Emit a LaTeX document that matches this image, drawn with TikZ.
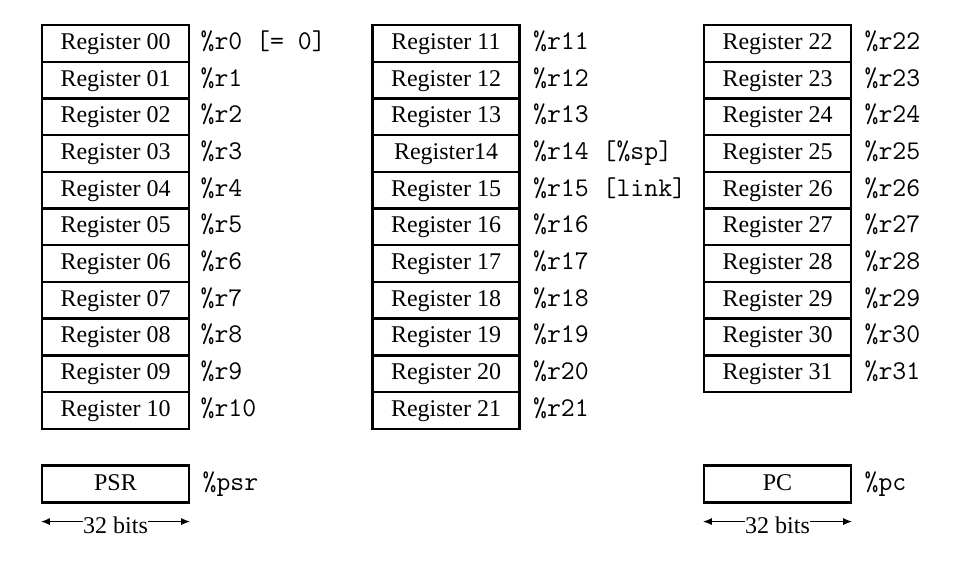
\documentclass[tikz,border=0pt]{standalone}
\usepackage{fontspec}
\setmainfont{Liberation Serif}
\usetikzlibrary{arrows.meta, positioning, calc}
\tikzset{
    regbox/.style={draw=black, line width=1.2pt, minimum width=73.5pt, minimum height=18.35pt, inner sep=0pt, text height=8.5pt, text depth=2.5pt, font=\fontsize{12}{14}\selectfont},
    reglbl/.style={inner sep=0pt, text height=8.5pt, text depth=2.5pt, font=\fontsize{13.5}{15}\selectfont\ttfamily},
    bitsarrow/.style={{Latex[length=4.5pt,width=3.5pt]}-{Latex[length=4.5pt,width=3.5pt]}, line width=0.7pt}
}

\begin{document}
\begin{tikzpicture}[x=0.5pt, y=-0.5pt]
    \useasboundingbox (0,0) rectangle (962,574);
    % registers 00 - 10
    \foreach \n in {0,...,10} {
        \node[regbox] (reg\n) at (115.5,43.35+36.7*\n) {Register \ifnum\n<10 0\fi\n};
        \node[reglbl, right=5pt of reg\n] (lbl\n) {\%r\n\ifnum\n=0{} [= 0]\fi};
    }
    % registers 11 - 21
    \foreach \n in {11,...,21} {
        \node[regbox] (reg\n) at (446,43.35+36.7*\n-403.7) {\ifnum\n=14 Register14\else Register \n\fi};
        \node[reglbl, right=6pt of reg\n] (lbl\n) {\%r\n\ifnum\n=14{} [\%sp]\fi\ifnum\n=15{} [link]\fi};
    }
    % registers 22 - 31
    \foreach \n in {22,...,31} {
        \node[regbox] (reg\n) at (777.5,43.35+36.7*\n-807.4) {Register \n};
        \node[reglbl, right=6pt of reg\n] (lbl\n) {\%r\n};
    }
    % status register and program counter
    \node[regbox] (psr) at (115.5,484) {PSR};
    \node[reglbl, right=6pt of psr] (psrlbl) {\%psr};
    \node[regbox] (pc) at (777.5,484) {PC};
    \node[reglbl, right=6pt of pc] (pclbl) {\%pc};
    \coordinate (psrl) at ($(psr.south west)+(0,-9pt)$);
    \coordinate (psrr) at ($(psr.south east)+(0,-9pt)$);
    \coordinate (pcl) at ($(pc.south west)+(0,-9pt)$);
    \coordinate (pcr) at ($(pc.south east)+(0,-9pt)$);
    \draw[bitsarrow] (psrl) -- node[fill=white, inner sep=0.3pt, yshift=-2pt, font=\fontsize{12}{14}\selectfont] {32 bits} (psrr);
    \draw[bitsarrow] (pcl) -- node[fill=white, inner sep=0.3pt, yshift=-2pt, font=\fontsize{12}{14}\selectfont] {32 bits} (pcr);
\end{tikzpicture}
\end{document}
